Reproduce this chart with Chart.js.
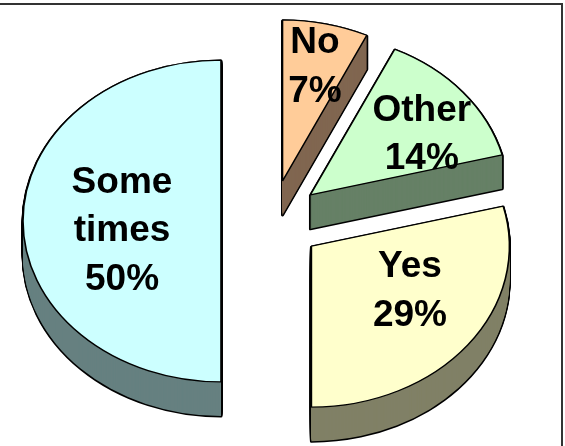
<!DOCTYPE html>
<html>
<head>
<meta charset="utf-8">
<script src="https://cdn.jsdelivr.net/npm/chart.js@4/dist/chart.umd.min.js"></script>
<style>
  html, body { margin: 0; padding: 0; background: #fff; overflow: hidden; }
  .wrap { position: relative; width: 565px; height: 446px; overflow: hidden; }
  canvas { position: absolute; left: 0; top: 0; }
  .frame { position: absolute; left: -10px; top: 3px; width: 573px; height: 470px; border: 2px solid #333; box-sizing: border-box; }
</style>
</head>
<body>
<div class="wrap">
  <canvas id="pie" width="565" height="446"></canvas>
  <div class="frame"></div>
</div>
<script>
// Data (clockwise from 12 o'clock)
const categories = ["No", "Other", "Yes", "Some times"];
const values = [7, 14, 29, 50];

// Styling
const topColors = ["#FFCC99", "#CCFFCC", "#FFFFCC", "#CCFFFF"];
const wallColors = ["#806650", "#668066", "#808066", "#668080"];
const TILT = 0.813;     // vertical squash of the pie
const DEPTH = 34;       // thickness of the 3D wall, px
const EXPLODE = 50.5;   // distance each slice is pulled out
// label placement: [fraction of radius along bisector, extra y shift]
const labelPos = [[0.75, 4], [0.73, 15], [0.63, -17], [0.5, 10]];
const FONT = 'bold 37px "Liberation Sans", Arial, sans-serif';
const LINE_H = 48.5;

const total = values.reduce((a, b) => a + b, 0);

const pie3d = {
  id: "pie3d",
  beforeDatasetDraw(chart, args) {
    const c = chart.ctx;
    const arcs = args.meta.data;
    const area = chart.chartArea;
    const cx = (area.left + area.right) / 2;
    const cy = (area.top + area.bottom) / 2;

    const place = (arc, dy) => {
      c.translate(0, dy);
      c.translate(cx, cy);
      c.scale(1, TILT);
      c.translate(-cx, -cy);
      const mid = (arc.startAngle + arc.endAngle) / 2;
      c.translate(Math.cos(mid) * EXPLODE, Math.sin(mid) * EXPLODE);
    };
    const slicePath = (arc, dy) => {
      c.save();
      place(arc, dy);
      c.beginPath();
      c.moveTo(arc.x, arc.y);
      c.arc(arc.x, arc.y, arc.outerRadius, arc.startAngle, arc.endAngle);
      c.closePath();
      c.restore();
    };

    // wall outlines, then wall fills on top so only the silhouette stays
    c.save();
    c.strokeStyle = "#000";
    c.lineWidth = 3;
    c.lineJoin = "round";
    arcs.forEach((arc) => {
      for (let d = DEPTH; d >= 1; d--) { slicePath(arc, d); c.stroke(); }
    });
    arcs.forEach((arc, i) => {
      c.fillStyle = wallColors[i];
      for (let d = DEPTH; d >= 1; d--) { slicePath(arc, d); c.fill(); }
    });
    c.restore();

    // top faces drawn by the arc elements themselves
    arcs.forEach((arc) => {
      c.save();
      place(arc, 0);
      arc.draw(c);
      c.restore();
    });
    return false;
  },
  afterDatasetsDraw(chart) {
    const c = chart.ctx;
    const arcs = chart.getDatasetMeta(0).data;
    c.save();
    c.font = FONT;
    c.fillStyle = "#000";
    c.textAlign = "center";
    c.textBaseline = "middle";
    arcs.forEach((arc, i) => {
      const mid = (arc.startAngle + arc.endAngle) / 2;
      const r = EXPLODE + labelPos[i][0] * arc.outerRadius;
      const x = arc.x + Math.cos(mid) * r;
      const y = arc.y + Math.sin(mid) * r * TILT + labelPos[i][1];
      const lines = categories[i].split(" ");
      lines.push(Math.round((values[i] / total) * 100) + "%");
      const y0 = y - ((lines.length - 1) * LINE_H) / 2;
      lines.forEach((t, j) => c.fillText(t, x, y0 + j * LINE_H));
    });
    c.restore();
  },
};

new Chart(document.getElementById("pie"), {
  type: "pie",
  data: {
    labels: categories,
    datasets: [{
      data: values,
      backgroundColor: topColors,
      borderColor: "#000",
      borderWidth: 1.6,
      radius: 198,
    }],
  },
  options: {
    responsive: false,
    animation: false,
    events: [],
    layout: { padding: { left: 0, right: 22, top: 0, bottom: 4 } },
    plugins: { legend: { display: false }, tooltip: { enabled: false } },
  },
  plugins: [pie3d],
});
</script>
</body>
</html>
